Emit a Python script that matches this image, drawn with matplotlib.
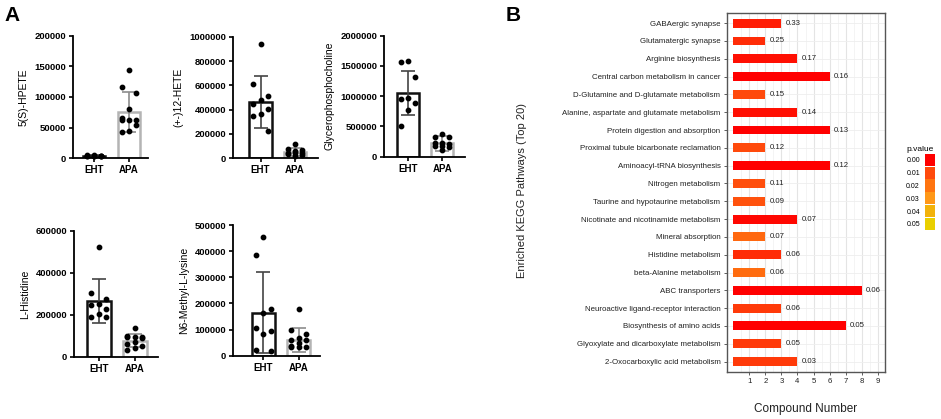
import matplotlib
matplotlib.use("Agg")
import matplotlib.pyplot as plt
from matplotlib.colors import LinearSegmentedColormap
from matplotlib.patches import Patch
import numpy as np

plt.rcParams["font.family"] = ["Liberation Sans", "DejaVu Sans"]

# ---------------- panel A data ----------------
groups = ["EHT", "APA"]

hpete_eht = [3500, 4200, 2800, 3900, 3100, 4600, 3300, 2500, 4000]
hpete_apa = [144400, 115700, 105800, 79900, 61700, 61700, 61700, 66100, 54000, 43000, 44100]
hpete_mean = [3500, 76000]
hpete_sd = [700, 33000]

hete_eht = [942600, 608300, 509600, 479500, 443900, 402800, 367200, 348000, 224700]
hete_apa = [115000, 74000, 68000, 60000, 45000, 42000, 38000, 30000, 25000, 20000]
hete_mean = [466000, 47000]
hete_sd = [215000, 32000]

gpc_eht = [1559000, 1581000, 1311000, 964000, 953000, 882000, 771000, 507000]
gpc_apa = [369000, 331000, 331000, 231000, 220000, 182000, 182000, 165000, 110000, 215000]
gpc_mean = [1050000, 220000]
gpc_sd = [365000, 120000]

his_eht = [521600, 304800, 275000, 246600, 249800, 226000, 191700, 202700, 191700]
his_apa = [137000, 102000, 95000, 93000, 93000, 92000, 70000, 60000, 50000, 42000, 35000]
his_mean = [265500, 77000]
his_sd = [104000, 31000]

lys_eht = [453000, 386500, 180000, 162400, 107000, 94400, 84400, 18900, 21400]
lys_apa = [177500, 97000, 82000, 67000, 62000, 59000, 47000, 38000, 34000, 34000, 31500]
lys_mean = [165000, 60400]
lys_sd = [156000, 45000]

# ---------------- panel B data ----------------
pathways = [
    "GABAergic synapse",
    "Glutamatergic synapse",
    "Arginine biosynthesis",
    "Central carbon metabolism in cancer",
    "D-Glutamine and D-glutamate metabolism",
    "Alanine, aspartate and glutamate metabolism",
    "Protein digestion and absorption",
    "Proximal tubule bicarbonate reclamation",
    "Aminoacyl-tRNA biosynthesis",
    "Nitrogen metabolism",
    "Taurine and hypotaurine metabolism",
    "Nicotinate and nicotinamide metabolism",
    "Mineral absorption",
    "Histidine metabolism",
    "beta-Alanine metabolism",
    "ABC transporters",
    "Neuroactive ligand-receptor interaction",
    "Biosynthesis of amino acids",
    "Glyoxylate and dicarboxylate metabolism",
    "2-Oxocarboxylic acid metabolism",
]
compound_number = [3, 2, 4, 6, 2, 4, 6, 2, 6, 2, 2, 4, 2, 3, 2, 8, 3, 7, 3, 4]
impact = ["0.33", "0.25", "0.17", "0.16", "0.15", "0.14", "0.13", "0.12", "0.12", "0.11",
          "0.09", "0.07", "0.07", "0.06", "0.06", "0.06", "0.06", "0.05", "0.05", "0.03"]
p_value = [0.004, 0.006, 0.002, 0.000, 0.010, 0.002, 0.000, 0.010, 0.000, 0.011,
           0.012, 0.001, 0.017, 0.006, 0.018, 0.000, 0.008, 0.000, 0.008, 0.008]
legend_p = [0.00, 0.01, 0.02, 0.03, 0.04, 0.05]

fig = plt.figure(figsize=(9.41, 4.19), dpi=100)

# ---------------- panel A ----------------
panels = [
    # (label, eht, apa, mean, sd, ymax, ystep, rect, xlim)
    ("5(S)-HPETE", hpete_eht, hpete_apa, hpete_mean, hpete_sd, 200000, 50000,
     [0.0776, 0.6229, 0.0797, 0.2912], (-0.6, 1.54)),
    ("(+-)12-HETE", hete_eht, hete_apa, hete_mean, hete_sd, 1000000, 200000,
     [0.2476, 0.6229, 0.0903, 0.2888], (-0.8, 1.67)),
    ("Glycerophosphocholine", gpc_eht, gpc_apa, gpc_mean, gpc_sd, 2000000, 500000,
     [0.4081, 0.6260, 0.0861, 0.2888], (-0.7, 1.67)),
    ("L-Histidine", his_eht, his_apa, his_mean, his_sd, 600000, 200000,
     [0.0786, 0.1480, 0.0893, 0.3014], (-0.69, 1.64)),
    ("N6-Methyl-L-lysine", lys_eht, lys_apa, lys_mean, lys_sd, 500000, 100000,
     [0.2476, 0.1510, 0.0925, 0.3119], (-0.85, 1.6)),
]

edge_cols = ["#111111", "#b4b4b4"]
err_cols = ["#444444", "#8c8c8c"]
offsets_cycle = [0.0, -0.21, 0.21]

for label, eht, apa, mean, sd, ymax, ystep, rect, xlim in panels:
    ax = fig.add_axes(rect)
    x = np.arange(len(groups))
    for i, (pts, m, s) in enumerate(zip([eht, apa], mean, sd)):
        ax.bar(x[i], m, width=0.65, facecolor="white", edgecolor=edge_cols[i],
               linewidth=1.8, zorder=1)
        ax.errorbar(x[i], m, yerr=s, color=err_cols[i], capsize=5, capthick=1.2,
                    elinewidth=1.2, zorder=2)
        order = np.argsort(pts)[::-1]
        xs = np.empty(len(pts))
        for k, idx in enumerate(order):
            xs[idx] = x[i] + offsets_cycle[k % 3]
        ax.scatter(xs, pts, s=10, color="black", zorder=3, clip_on=False)
    ax.set_xlim(*xlim)
    ax.set_ylim(0, ymax)
    yt = np.arange(0, ymax + 1, ystep)
    ax.set_yticks(yt)
    ax.set_yticklabels([str(int(v)) for v in yt], fontsize=6.8, fontweight="bold")
    ax.set_xticks(x)
    ax.set_xticklabels(groups, fontsize=7, fontweight="bold")
    ax.set_ylabel(label, fontsize=7.5, labelpad=4)
    for sp in ["top", "right"]:
        ax.spines[sp].set_visible(False)
    for sp in ["left", "bottom"]:
        ax.spines[sp].set_linewidth(1.3)
    ax.tick_params(axis="both", width=1.2, length=3, pad=2)

fig.text(0.005, 0.985, "A", fontsize=15, fontweight="bold", va="top", ha="left")

# ---------------- panel B ----------------
cmap = LinearSegmentedColormap.from_list(
    "pv", ["#ff0000", "#ff4a0c", "#ff7410", "#ff9818", "#f2b20a", "#e9cf00"])
norm = plt.Normalize(0.0, 0.05)

axb = fig.add_axes([0.7723, 0.1129, 0.1685, 0.856])
ypos = np.arange(len(pathways))
axb.barh(ypos, compound_number, height=0.5, color=cmap(norm(np.array(p_value))),
         edgecolor="none", zorder=2)
for yy, n, lab in zip(ypos, compound_number, impact):
    axb.text(n + 0.25, yy, lab, fontsize=5.6, va="center", ha="left", color="#222222")
axb.set_ylim(len(pathways) - 0.43, -0.57)
axb.set_xlim(-0.4, 9.46)
axb.set_yticks(ypos)
axb.set_yticklabels(pathways, fontsize=5.7, color="#222222")
axb.set_xticks(np.arange(1, 10))
axb.set_xticklabels([str(v) for v in range(1, 10)], fontsize=5.6, color="#222222")
axb.set_xticks(np.arange(0.5, 9.5, 1), minor=True)
axb.grid(axis="x", which="major", color="#e4e4e4", linewidth=0.8, zorder=0)
axb.grid(axis="x", which="minor", color="#f0f0f0", linewidth=0.5, zorder=0)
axb.grid(axis="y", which="major", color="#eeeeee", linewidth=0.6, zorder=0)
axb.set_axisbelow(True)
axb.tick_params(axis="both", which="major", length=2.5, width=0.6, color="#444444", pad=2)
axb.tick_params(axis="x", which="minor", length=0)
for sp in axb.spines.values():
    sp.set_color("#555555")
    sp.set_linewidth(1.0)
axb.set_xlabel("Compound Number", fontsize=8.5, color="#222222", labelpad=13)
fig.text(0.555, 0.545, "Enriched KEGG Pathways (Top 20)", fontsize=8, color="#222222",
         rotation=90, ha="center", va="center")

handles = [Patch(facecolor=cmap(norm(p)), edgecolor="none") for p in legend_p]
leg = fig.legend(handles, ["%.2f" % p for p in legend_p], title="p.value",
                 loc="upper left", bbox_to_anchor=(0.963, 0.652), frameon=False,
                 fontsize=5, title_fontsize=6, markerfirst=False,
                 handlelength=1.3, handleheight=2.3, labelspacing=0.12,
                 handletextpad=0.8, borderaxespad=0, borderpad=0)
leg._legend_box.align = "left"

fig.text(0.537, 0.985, "B", fontsize=15, fontweight="bold", va="top", ha="left")

fig.savefig("out.png", dpi=100)
